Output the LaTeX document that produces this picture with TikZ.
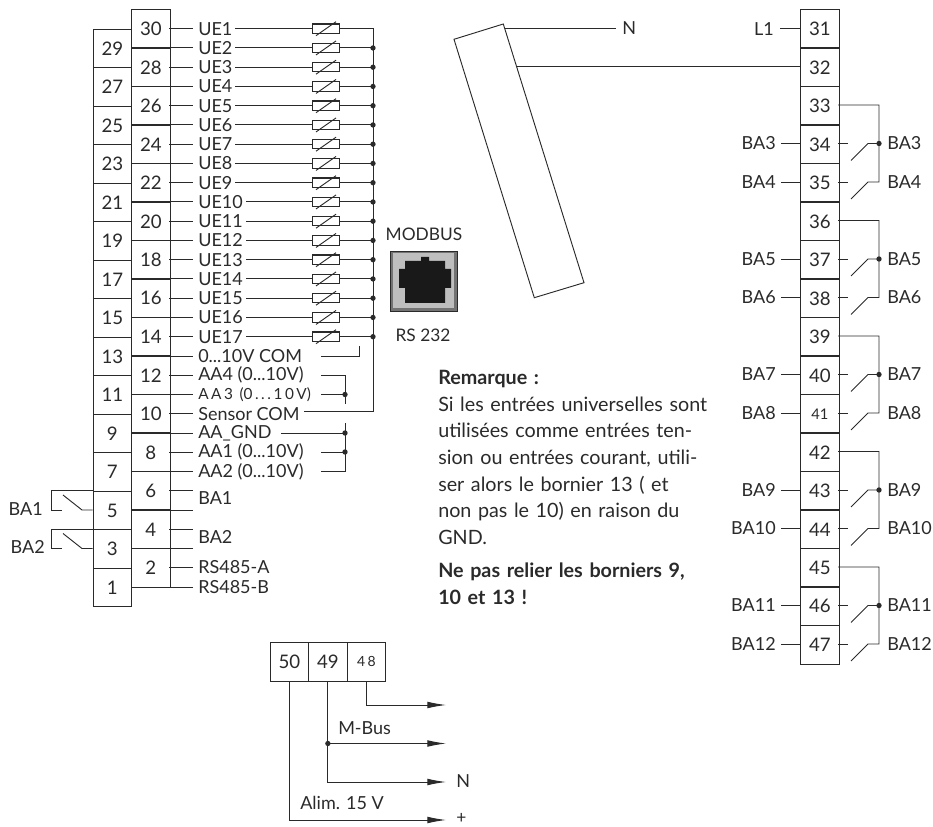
\documentclass[tikz,border=0pt]{standalone}
\usepackage{fontspec}
\setmainfont{Lato}
\usetikzlibrary{arrows.meta}
\definecolor{ink}{HTML}{2A2A2A}
\definecolor{pad}{HTML}{BEBEBE}
\tikzset{
  x=0.75pt,y=-0.75pt,
  wire/.style={draw=ink,line width=0.7pt},
  term/.style={draw=ink,line width=0.9pt,minimum width=28.9pt,minimum height=28.9pt,inner sep=0pt,anchor=north west,font=\fontsize{14}{14}\selectfont,text=ink},
  lab/.style={anchor=west,inner sep=0pt,font=\fontsize{13.5}{14}\selectfont,text=ink},
  labr/.style={anchor=east,inner sep=0pt,font=\fontsize{13.5}{14}\selectfont,text=ink},
  dotn/.style={circle,fill=ink,inner sep=0pt,minimum size=4pt},
  res/.style={draw=ink,line width=0.8pt,fill=white,minimum width=20pt,minimum height=7pt,inner sep=0pt},
  arr/.style={wire,-{Latex[length=14pt,width=5pt]}},
}
\begin{document}
\begin{tikzpicture}
\useasboundingbox (0,0) rectangle (933,827);
% left terminal block
\foreach \n/\r in {30/0,28/1,26/2,24/3,22/4,20/5,18/6,16/7,14/8,12/9,10/10,8/11,6/12,4/13,2/14}
  \node[term] (t\n) at (131,9+38.5*\r) {\n};
\foreach \n/\r in {29/0,27/1,25/2,23/3,21/4,19/5,17/6,15/7,13/8,11/9,9/10,7/11,5/12,3/13,1/14}
  \node[term] (t\n) at (92.5,28.7+38.5*\r) {\n};
% right block
\foreach \n/\r in {31/0,32/1,33/2,34/3,35/4,36/5,37/6,38/7,39/8,40/9,42/11,43/12,44/13,45/14,46/15,47/16}
  \node[term] (t\n) at (800,9+38.5*\r) {\n};
\node[term,font=\fontsize{11}{11}\selectfont] (t41) at (800,394) {41};
% UE inputs
\foreach \i in {1,...,17}{
  \pgfmathsetmacro\yy{28.7+19.25*(\i-1)}
  \pgfmathsetmacro\xs{\i>9 ? 246 : 235}
  \coordinate (ws\i) at (169,\yy);
  \coordinate (we\i) at (193,\yy);
  \node[lab] (ue\i) at (198,\yy) {UE\i};
  \node[res] (r\i) at (326,\yy) {};
  \coordinate (b\i) at (373,\yy);
  \draw[wire] (ws\i) -- (we\i);
  \draw[wire] (\xs,\yy) -- (r\i.west);
  \draw[wire] (r\i.east) -- (b\i);
  \draw[wire] (316,\yy+7) -- (336,\yy-7);
  \ifnum\i>1 \node[dotn] at (b\i) {};\fi
}
% lower left labels
\foreach \nm/\y/\t in {a/356/{0...10V COM},b/375.2/{AA4 (0...10V)},d/433/{AA\_GND},e/452/{AA1 (0...10V)},f/471.5/{AA2 (0...10V)}}{
  \node[lab] (l\nm) at (198,\y) {\t};
  \draw[wire] (169,\y) -- (193,\y);
}
\node[lab,font=\fontsize{11.5}{11.5}\selectfont] (lc) at (198,394.5) {A\,A\,3 \,(0\,.\,.\,.\,1\,0\,V)};
\draw[wire] (169,394.5) -- (193,394.5);
\node[lab] (ls) at (198,413.7) {Sensor COM};
\draw[wire] (169,413.7) -- (193,413.7);
\draw[wire] (321,356) -- (359.5,356) -- (359.5,346);
\draw[wire] (321,375.2) -- (345,375.2) -- (345,404);
\draw[wire] (321,394.5) -- (345,394.5);
\node[dotn] at (345,394.5) {};
\draw[wire] (304,411.7) -- (373,411.7) -- (b1) -- (r1.east);
\draw[wire] (281,433) -- (345,433);
\draw[wire] (345,423) -- (345,471.5) -- (321,471.5);
\draw[wire] (321,452) -- (345,452);
\node[dotn] at (345,433) {};
\node[dotn] at (345,452) {};
% BA / RS lines
\foreach \y in {490,510,529,548,567.5,587} \draw[wire] (169,\y) -- (193,\y);
\node[lab] (ba1) at (198,498) {BA1};
\node[lab] (ba2) at (198,537) {BA2};
\node[lab] (rsa) at (198,567) {RS485-A};
\node[lab] (rsb) at (198,587) {RS485-B};
% relays left
\node[labr] (rba1) at (43,509) {BA1};
\node[labr] (rba2) at (45,547) {BA2};
\draw[wire] (92.5,490.5) -- (51,490.5) -- (51,510) -- (62,510);
\draw[wire] (92.5,510) -- (82,510) -- (63,495);
\draw[wire] (92.5,529) -- (51,529) -- (51,548.5) -- (62,548.5);
\draw[wire] (92.5,548.5) -- (82,548.5) -- (63,533.5);
% modbus
\node[anchor=center,inner sep=0pt,font=\fontsize{13}{13}\selectfont,text=ink] (mb) at (424,234) {MODBUS};
\node[anchor=center,inner sep=0pt,font=\fontsize{13}{13}\selectfont,text=ink] (rs) at (423,335) {RS 232};
\draw[draw=ink,line width=0.6pt,fill=black!55] (390.5,251) rectangle (457,311);
\fill[pad] (393,253) rectangle (454,308);
\fill[black!90] (405,269) -- (405,261) -- (421,261) -- (421,257) -- (429,257) -- (429,261) -- (445,261) -- (445,269) -- (451,269) -- (451,288) -- (445,288) -- (445,303) -- (405,303) -- (405,288) -- (399,288) -- (399,269) -- cycle;
% tilted box
\draw[wire] (454,39.3) -- (503.3,24) -- (584,282.7) -- (534.3,297.7) -- cycle;
\coordinate (n1) at (504.7,28.5);
\coordinate (n2) at (517,66.8);
\draw[wire] (n1) -- (616,28.5);
\node[lab] (nn) at (622,28.5) {N};
\draw[wire] (n2) -- (t32.west |- n2);
% right labels
\node[labr] (l1) at (774,28.7) {L1};
\coordinate (l1e) at (780,28.7);
\draw[wire] (l1e) -- (t31.west |- l1e);
\foreach \a/\b/\c/\la/\lb/\r in {33/34/35/BA3/BA4/0,36/37/38/BA5/BA6/1,39/40/41/BA7/BA8/2,42/43/44/BA9/BA10/3,45/46/47/BA11/BA12/4}{
  \pgfmathsetmacro\ya{105+115.5*\r}
  \pgfmathsetmacro\yb{\ya+38.5}
  \pgfmathsetmacro\yc{\ya+77}
  \draw[wire] (838,\ya) -- (879,\ya) -- (879,\yc) -- (868,\yc) -- (851,\yc+17);
  \draw[wire] (879,\yb) -- (868,\yb) -- (851,\yb+17);
  \draw[wire] (838,\yb) -- (848,\yb);
  \draw[wire] (838,\yc) -- (848,\yc);
  \node[dotn] at (879,\yb) {};
  \node[lab] at (887,\yb) {\la};
  \node[lab] at (887,\yc) {\lb};
  \node[labr] at (776,\yb) {\la};
  \node[labr] at (776,\yc) {\lb};
  \draw[wire] (781,\yb) -- (800,\yb);
  \draw[wire] (781,\yc) -- (800,\yc);
}
% bottom block
\node[term] (t50) at (269.5,642) {50};
\node[term] (t49) at (308,642) {49};
\node[term,font=\fontsize{10.5}{10.5}\selectfont] (t48) at (346.5,642) {4\,8};
\coordinate (e48) at (446,705);
\coordinate (e49a) at (446,743.5);
\coordinate (e49b) at (446,782);
\coordinate (e50) at (446,820);
\draw[arr] (t48.south) -- (t48.south |- e48) -- (e48);
\draw[arr] (t49.south) -- (t49.south |- e49b) -- (e49b);
\draw[arr] (t49.south |- e49a) -- (e49a);
\draw[arr] (t50.south) -- (t50.south |- e50) -- (e50);
\node[dotn] at (t49.south |- e49a) {};
\node[lab] (mbus) at (338,728) {M-Bus};
\node[lab] (alim) at (300,803) {Alim. 15 V};
\node[lab] (nb) at (456,781) {N};
\node[lab,font=\fontsize{13}{13}\selectfont] (pl) at (456,818) {+};
% note
\node[anchor=north west,inner sep=0pt,text width=240pt,font=\fontsize{14.8}{20}\selectfont,text=ink,align=left] (note) at (438,370) {\textbf{Remarque :}\\Si les entrées universelles sont\\utilisées comme entrées ten-\\sion ou entrées courant, utili-\\ser alors le bornier 13 ( et\\non pas le 10) en raison du\\GND.\\[5pt]\textbf{Ne pas relier les borniers 9,}\\\textbf{10 et 13 !}};
\end{tikzpicture}
\end{document}
